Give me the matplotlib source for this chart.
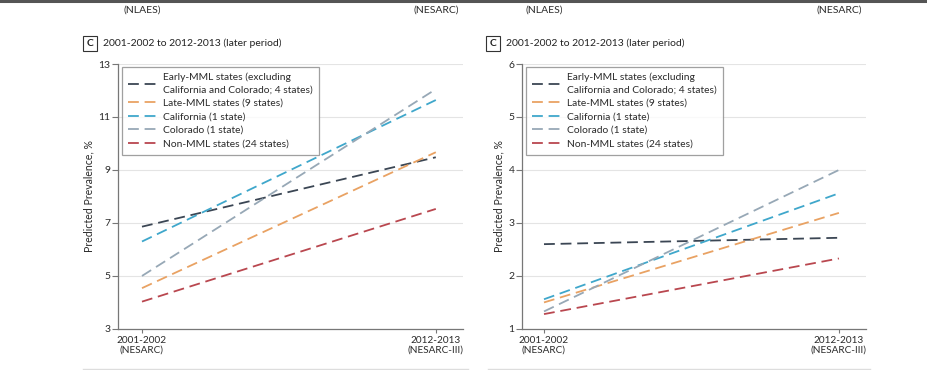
import matplotlib.pyplot as plt
from matplotlib.patches import Rectangle
from matplotlib.lines import Line2D

plt.rcParams["font.family"] = ["Lato", "DejaVu Sans"]

# Donnees
periods = ["2001-2002\n(NESARC)", "2012-2013\n(NESARC-III)"]
top_labels = ["(NLAES)", "(NESARC)"]
groups = [
    "Early-MML states (excluding\nCalifornia and Colorado; 4 states)",
    "Late-MML states (9 states)",
    "California (1 state)",
    "Colorado (1 state)",
    "Non-MML states (24 states)",
]
colors = ["#3b4654", "#e9a263", "#3fa7cb", "#97a8b6", "#b9474f"]

left_start = [6.86, 4.54, 6.30, 5.00, 4.03]
left_end = [9.48, 9.67, 11.64, 12.05, 7.53]
right_start = [2.60, 1.50, 1.56, 1.33, 1.28]
right_end = [2.72, 3.19, 3.56, 4.00, 2.33]

left_ticks = [3, 5, 7, 9, 11, 13]
right_ticks = [1, 2, 3, 4, 5, 6]

title = "2001-2002 to 2012-2013 (later period)"


def draw_panel(fig, rect, starts, ends, yticks, xlim):
    ax = fig.add_axes(rect)
    x = [0, 1]
    for name, c, s, e in zip(groups, colors, starts, ends):
        ax.plot(x, [s, e], color=c, lw=1.3, dashes=(6, 3.2), label=name)
    ax.set_xlim(*xlim)
    ax.set_ylim(yticks[0], yticks[-1])
    ax.set_yticks(yticks)
    ax.set_xticks(x)
    ax.set_xticklabels(periods, fontsize=7.2, color="#2a2a2a", linespacing=1.1)
    ax.tick_params(axis="y", labelsize=7.5, labelcolor="#2a2a2a", length=4,
                   width=0.8, color="#777777", pad=1.5)
    ax.tick_params(axis="x", length=3, width=0.8, color="#777777", pad=2)
    ax.grid(axis="y", color="#e4e4e4", lw=0.8)
    ax.set_axisbelow(True)
    for sp in ["top", "right"]:
        ax.spines[sp].set_visible(False)
    for sp in ["left", "bottom"]:
        ax.spines[sp].set_color("#777777")
        ax.spines[sp].set_linewidth(0.9)
    ax.set_ylabel("Predicted Prevalence, %", fontsize=7.6, color="#2a2a2a",
                  labelpad=2.5)
    leg = ax.legend(loc="upper left", bbox_to_anchor=(0.012, 0.99),
                    borderaxespad=0, fontsize=7.4, frameon=True,
                    fancybox=False, edgecolor="#888888", handlelength=3.0,
                    handletextpad=0.4, labelspacing=0.42, borderpad=0.6)
    leg.get_frame().set_linewidth(0.9)
    for t in leg.get_texts():
        t.set_color("#2a2a2a")
        t.set_linespacing(1.45)
    return ax


fig = plt.figure(figsize=(9.27, 3.70), dpi=100)

axl = draw_panel(fig, [0.1273, 0.111, 0.372, 0.716], left_start, left_end,
                 left_ticks, (-0.0816, 1.092))
axr = draw_panel(fig, [0.5631, 0.111, 0.371, 0.716], right_start, right_end,
                 right_ticks, (-0.0746, 1.0915))

# top rule and leftover labels from panel above
fig.add_artist(Line2D([0, 1], [0.997, 0.997], color="#555555", lw=2.2))
for ax in [axl, axr]:
    for xv, lab in zip([0, 1], top_labels):
        ax.text(xv, 1.0 + (370 - 10 - 306) / 265, lab,
                transform=ax.get_xaxis_transform(),
                ha="center", va="center", fontsize=7.5, color="#2a2a2a")

# panel titles with boxed letter
for bx, tx in [(83 / 927, 103 / 927), (486 / 927, 506 / 927)]:
    fig.add_artist(Rectangle((bx, 1 - 51 / 370), 14 / 927, 15 / 370,
                             transform=fig.transFigure, fill=False,
                             edgecolor="#333333", lw=0.8))
    fig.text(bx + 7 / 927, 1 - 43.5 / 370, "C", ha="center", va="center",
             fontsize=7.5, fontweight="bold", color="#222222")
    fig.text(tx, 1 - 43.5 / 370, title, ha="left", va="center",
             fontsize=7.5, color="#222222")

# bottom separators
fig.add_artist(Line2D([83 / 927, 468 / 927], [1 - 369 / 370] * 2,
                      color="#dddddd", lw=1.0))
fig.add_artist(Line2D([488 / 927, 870 / 927], [1 - 369 / 370] * 2,
                      color="#dddddd", lw=1.0))

fig.savefig("out.png", dpi=100)
plt.close(fig)
